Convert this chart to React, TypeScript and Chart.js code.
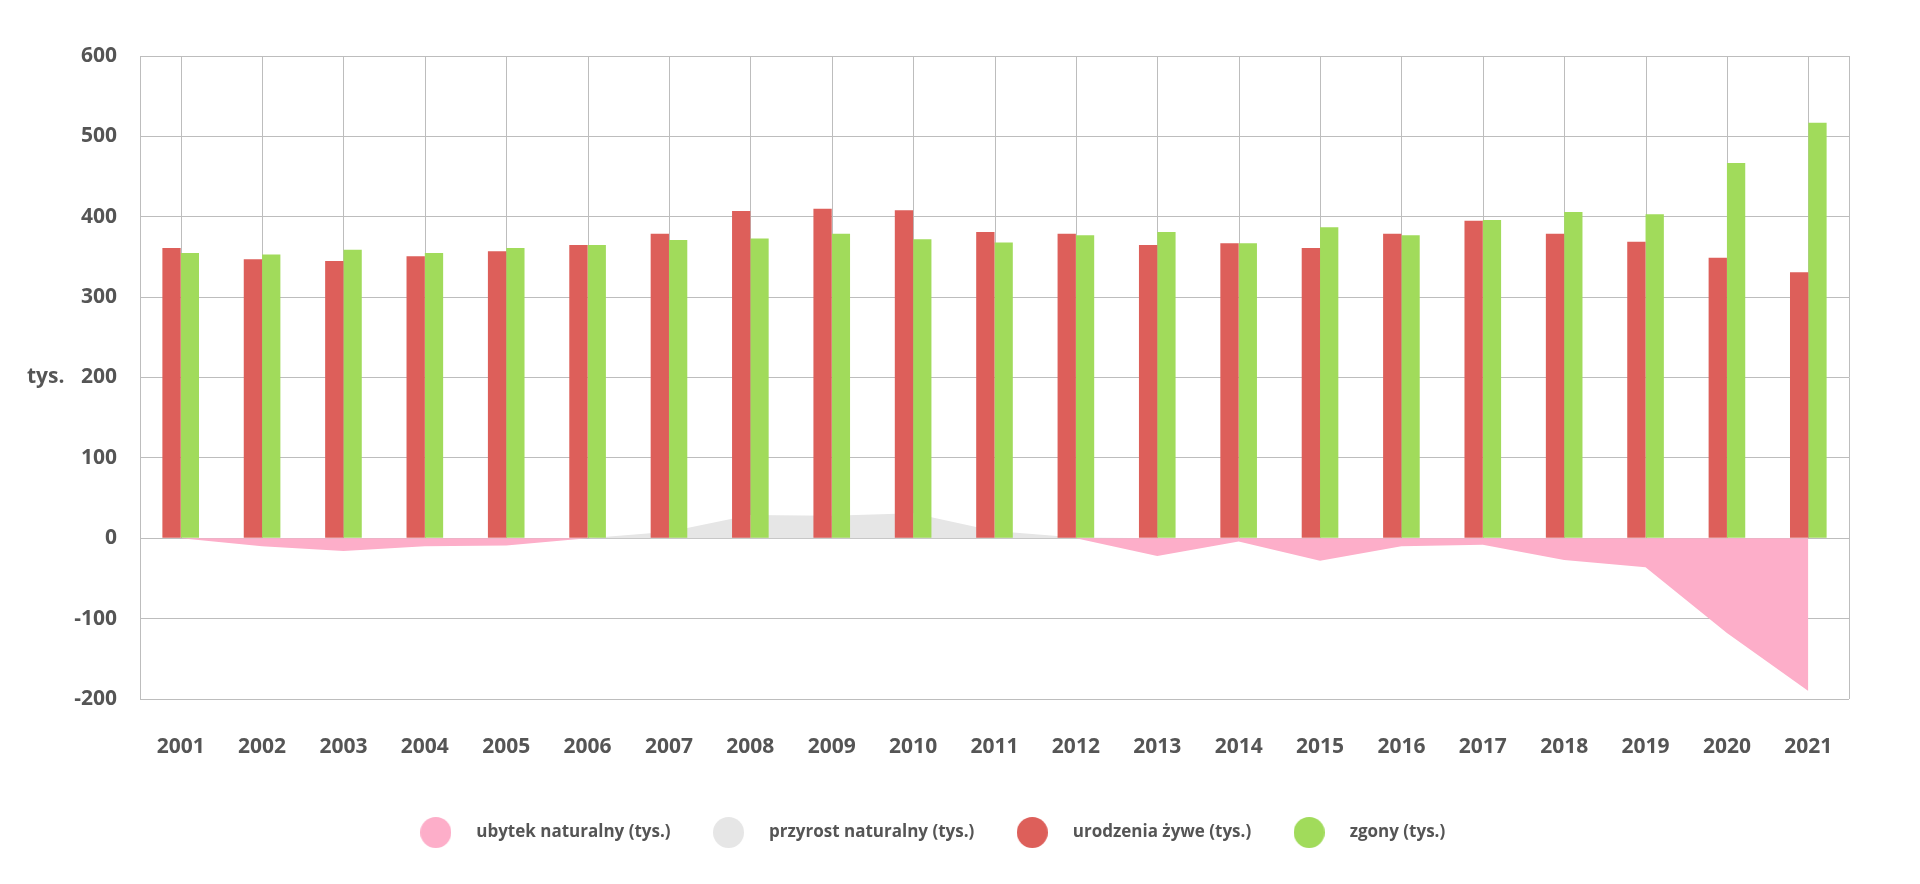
import React, { useEffect, useRef } from "react";
import { Chart, registerables } from "chart.js";

Chart.register(...registerables);

const years = ["2001", "2002", "2003", "2004", "2005", "2006", "2007", "2008", "2009", "2010", "2011", "2012", "2013", "2014", "2015", "2016", "2017", "2018", "2019", "2020", "2021"];
const births = [361, 347, 345, 351, 357, 365, 379, 407, 410, 408, 381, 379, 365, 367, 361, 379, 395, 379, 369, 349, 331];
const deaths = [355, 353, 359, 355, 361, 365, 371, 373, 379, 372, 368, 377, 381, 367, 387, 377, 396, 406, 403, 467, 517];
const naturalDecrease = [0, -10, -16, -10, -9, 0, 0, 0, 0, 0, 0, 0, -22, -4, -28, -10, -8, -27, -36, -118, -190];
const naturalIncrease = [0, 0, 0, 0, 0, 0, 8, 29, 28, 31, 9, 1, 0, 0, 0, 0, 0, 0, 0, 0, 0];

const seriesLabels = ["ubytek naturalny (tys.)", "przyrost naturalny (tys.)", "urodzenia żywe (tys.)", "zgony (tys.)"];
const seriesColors = ["#fdaec9", "#e6e6e6", "#dd5f5a", "#a1db5b"];
const unitLabel = "tys.";

const TEXT = "#555555";
const GRID = "#bdbdbd";
const FONT = "'Open Sans', 'DejaVu Sans', sans-serif";

function makeDot(color: string, d: number) {
  const c = document.createElement("canvas");
  c.width = d;
  c.height = d;
  const ctx = c.getContext("2d")!;
  ctx.fillStyle = color;
  ctx.beginPath();
  ctx.arc(d / 2, d / 2, d / 2, 0, Math.PI * 2);
  ctx.fill();
  return c;
}

const framePlugin = {
  id: "framePlugin",
  beforeDatasetsDraw(chart: any) {
    const { ctx, chartArea, scales } = chart;
    const x = scales.x;
    const y = scales.y;
    const zero = y.getPixelForValue(0);
    ctx.save();
    ctx.strokeStyle = GRID;
    ctx.lineWidth = 1;
    for (let i = 0; i < years.length; i++) {
      const px = Math.round(x.getPixelForValue(i)) + 0.5;
      ctx.beginPath();
      ctx.moveTo(px, chartArea.top);
      ctx.lineTo(px, zero);
      ctx.stroke();
    }
    const r = Math.round(chartArea.right) + 0.5;
    ctx.beginPath();
    ctx.moveTo(r, chartArea.top);
    ctx.lineTo(r, chartArea.bottom);
    ctx.stroke();
    ctx.restore();
  },
  afterDraw(chart: any) {
    const { ctx, scales } = chart;
    const y = scales.y;
    ctx.save();
    ctx.fillStyle = TEXT;
    ctx.font = `bold 21px ${FONT}`;
    ctx.textAlign = "left";
    ctx.textBaseline = "middle";
    ctx.fillText(unitLabel, 27, y.getPixelForValue(200));
    ctx.restore();
  },
};

export default function App() {
  const ref = useRef<HTMLCanvasElement | null>(null);

  useEffect(() => {
    document.body.style.margin = "0";
    const dots = seriesColors.map((c) => makeDot(c, 31));
    const chart = new Chart(ref.current!, {
      type: "bar",
      data: {
        labels: years,
        datasets: [
          {
            type: "line",
            label: seriesLabels[0],
            data: naturalDecrease,
            backgroundColor: seriesColors[0],
            borderColor: seriesColors[0],
            borderWidth: 0,
            pointRadius: 0,
            tension: 0,
            fill: "origin",
            order: 2,
          } as any,
          {
            type: "line",
            label: seriesLabels[1],
            data: naturalIncrease,
            backgroundColor: seriesColors[1],
            borderColor: seriesColors[1],
            borderWidth: 0,
            pointRadius: 0,
            tension: 0,
            fill: "origin",
            order: 2,
          } as any,
          {
            label: seriesLabels[2],
            data: births,
            backgroundColor: seriesColors[2],
            categoryPercentage: 0.45,
            barPercentage: 1,
            order: 1,
          },
          {
            label: seriesLabels[3],
            data: deaths,
            backgroundColor: seriesColors[3],
            categoryPercentage: 0.45,
            barPercentage: 1,
            order: 1,
          },
        ],
      },
      options: {
        animation: false,
        responsive: false,
        maintainAspectRatio: false,
        layout: { padding: { left: 0, right: 71, top: 56, bottom: 33 } },
        plugins: {
          tooltip: { enabled: false },
          legend: {
            position: "bottom",
            labels: {
              color: TEXT,
              font: { family: FONT, size: 17, weight: "bold" },
              usePointStyle: true,
              pointStyleWidth: 64,
              boxHeight: 17,
              padding: 26,
              generateLabels(chart: any) {
                const items = Chart.defaults.plugins.legend.labels.generateLabels(chart);
                items.sort((a: any, b: any) => a.datasetIndex - b.datasetIndex);
                return items.map((it: any) => ({ ...it, pointStyle: dots[it.datasetIndex], lineWidth: 0 }));
              },
            },
          },
        },
        scales: {
          x: {
            offset: true,
            grid: { display: false, drawTicks: false },
            border: { display: false },
            ticks: {
              color: TEXT,
              font: { family: FONT, size: 21, weight: "bold" },
              padding: 35,
              maxRotation: 0,
              autoSkip: false,
            },
            afterFit(scale: any) {
              scale.height = 99;
            },
          },
          y: {
            min: -200,
            max: 600,
            grid: { color: GRID, lineWidth: 1, drawTicks: false },
            border: { display: true, color: GRID, width: 1 },
            ticks: {
              stepSize: 100,
              color: TEXT,
              font: { family: FONT, size: 21, weight: "bold" },
              padding: 23,
            },
            afterFit(scale: any) {
              scale.width = 140;
            },
          },
        },
      },
      plugins: [framePlugin],
    });
    return () => chart.destroy();
  }, []);

  return (
    <div style={{ width: 1920, height: 884, background: "#ffffff" }}>
      <canvas ref={ref} width={1920} height={884} style={{ display: "block" }} />
    </div>
  );
}
